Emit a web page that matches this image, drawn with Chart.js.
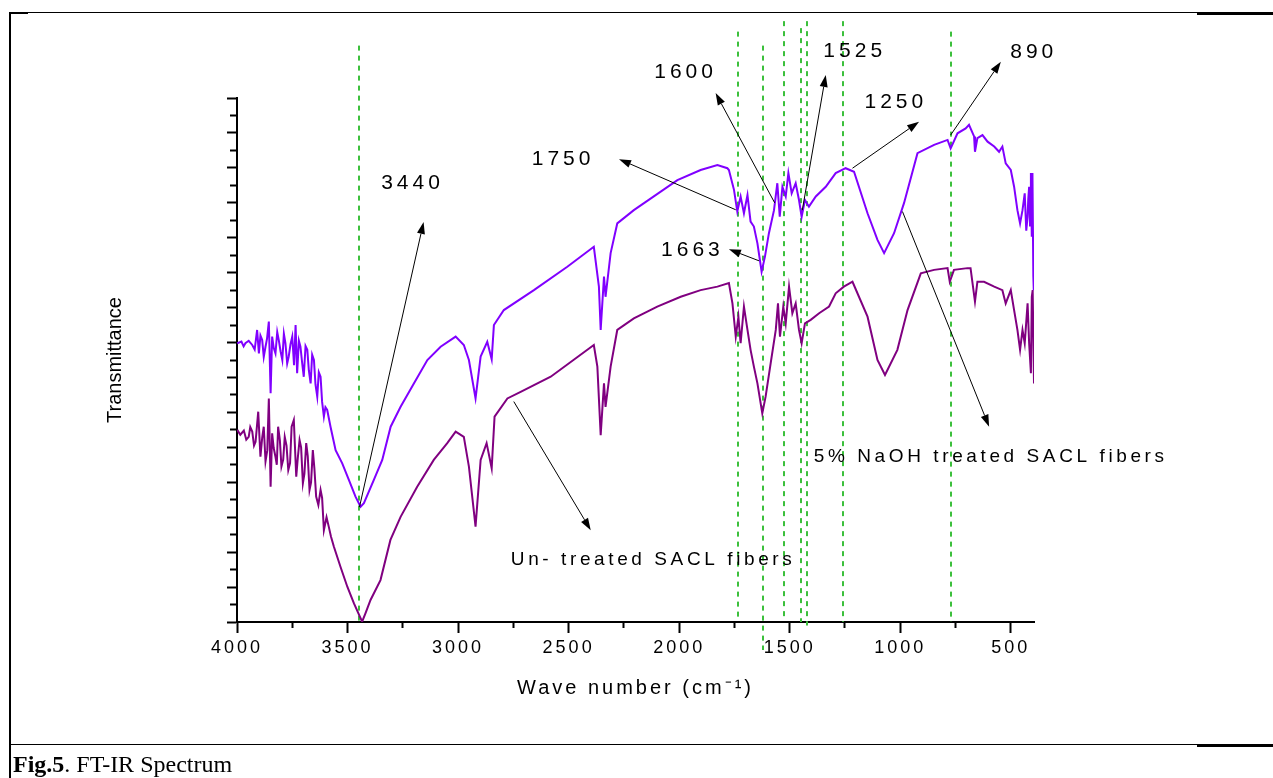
<!DOCTYPE html>
<html>
<head>
<meta charset="utf-8">
<script src="https://cdn.jsdelivr.net/npm/chart.js@4.4.1/dist/chart.umd.min.js"></script>
<style>
  html, body { margin: 0; padding: 0; background: #fff; }
  #page { position: relative; width: 1273px; height: 778px; overflow: hidden; }
  #c { position: absolute; left: 0; top: 0; }
  .rule { position: absolute; background: #000; }
  #caption {
    position: absolute; left: 13px; top: 752px;
    font-family: "Liberation Serif", "Times New Roman", serif;
    font-size: 24px; line-height: 24px; color: #000; white-space: nowrap;
  }
</style>
</head>
<body>
<div id="page">
  <canvas id="c" width="1273" height="778"></canvas>
  <div class="rule" style="left:9px;top:12px;width:2px;height:766px"></div>
  <div class="rule" style="left:9px;top:12px;width:1264px;height:1px"></div>
  <div class="rule" style="left:9px;top:12px;width:19px;height:2px"></div>
  <div class="rule" style="left:1197px;top:12px;width:76px;height:3px"></div>
  <div class="rule" style="left:9px;top:744px;width:1264px;height:1px"></div>
  <div class="rule" style="left:1197px;top:744px;width:76px;height:3px"></div>
  <div id="caption"><b>Fig.5</b>. FT-IR Spectrum</div>
</div>
<script>
// FT-IR spectra, values (arbitrary transmittance units)

// 5% NaOH treated SACL fibers
const treatedWave = [
  3999, 3980, 3970, 3962, 3947, 3931, 3920, 3909, 3901, 3894,
  3886, 3879, 3871, 3864, 3856, 3848, 3841, 3834, 3826, 3818,
  3811, 3803, 3795, 3788, 3781, 3773, 3766, 3758, 3750, 3742,
  3735, 3728, 3720, 3713, 3705, 3698, 3690, 3682, 3675, 3667,
  3660, 3652, 3645, 3637, 3630, 3622, 3615, 3607, 3600, 3592,
  3577, 3554, 3524, 3494, 3464, 3441, 3426, 3381, 3343, 3305,
  3260, 3200, 3139, 3079, 3011, 2974, 2951, 2921, 2898, 2868,
  2848, 2838, 2793, 2657, 2506, 2386, 2363, 2355, 2340, 2333,
  2310, 2280, 2205, 2008, 1903, 1827, 1782, 1775, 1752, 1737,
  1722, 1707, 1691, 1677, 1662, 1646, 1627, 1612, 1594, 1571,
  1556, 1545, 1533, 1518, 1506, 1491, 1473, 1458, 1446, 1431,
  1413, 1382, 1337, 1292, 1247, 1209, 1148, 1103, 1073, 1028,
  983, 922, 847, 786, 772, 741, 704, 689, 666, 662,
  651, 628, 605, 575, 553, 538, 523, 500, 485, 470,
  458, 447, 437, 430, 424, 421, 417, 413, 409, 405,
  402, 398, 396];
const treatedT = [
  79.8, 80.3, 78.9, 79.8, 80.5, 79.3, 78.0, 83.6, 76.9, 82.0,
  80.7, 75.9, 78.8, 81.2, 86.0, 65.5, 81.7, 78.5, 76.9, 83.0,
  80.7, 77.5, 75.0, 82.5, 79.8, 74.0, 76.0, 79.5, 81.7, 73.5,
  85.0, 71.2, 80.5, 78.8, 74.0, 70.2, 79.0, 77.9, 72.0, 68.3,
  76.5, 75.0, 68.0, 64.5, 71.5, 70.2, 63.0, 58.8, 61.5, 60.7,
  55.9, 49.2, 45.4, 40.7, 35.9, 33.0, 34.0, 40.7, 46.4, 55.9,
  61.6, 68.3, 75.0, 78.8, 81.7, 79.3, 75.0, 64.0, 76.0, 80.2,
  75.2, 85.0, 89.3, 95.0, 101.7, 107.4, 96.0, 83.6, 98.9, 93.1,
  105.6, 114.1, 117.9, 126.5, 129.4, 130.8, 129.9, 129.4, 123.7, 117.5,
  121.8, 117.0, 122.2, 114.6, 113.2, 108.4, 100.3, 104.6, 111.3, 117.9,
  125.6, 116.0, 124.6, 121.8, 128.5, 122.7, 125.6, 120.8, 116.0, 120.8,
  118.9, 121.8, 124.6, 128.5, 129.9, 128.9, 117.0, 109.4, 105.6, 111.3,
  119.9, 134.2, 136.6, 138.0, 135.6, 139.9, 141.3, 142.3, 139.0, 134.6,
  138.5, 139.4, 137.5, 136.1, 134.6, 136.1, 131.3, 129.4, 124.6, 117.9,
  114.1, 117.9, 122.7, 112.0, 116.0, 121.0, 124.6, 113.5, 128.5, 110.3,
  128.5, 98.9, 95.0];

// Un-treated SACL fibers
const untreatedWave = [
  3999, 3985, 3969, 3958, 3947, 3940, 3931, 3923, 3916, 3904,
  3894, 3886, 3879, 3871, 3863, 3856, 3848, 3841, 3834, 3826,
  3820, 3814, 3806, 3799, 3791, 3784, 3776, 3768, 3760, 3753,
  3743, 3732, 3725, 3717, 3710, 3702, 3695, 3687, 3680, 3672,
  3665, 3657, 3650, 3642, 3632, 3622, 3615, 3607, 3595, 3585,
  3575, 3562, 3532, 3501, 3471, 3434, 3419, 3396, 3351, 3306,
  3260, 3185, 3110, 3049, 3011, 2974, 2951, 2921, 2898, 2871,
  2848, 2835, 2777, 2717, 2581, 2386, 2370, 2355, 2340, 2333,
  2310, 2280, 2205, 2099, 1993, 1903, 1827, 1775, 1759, 1744,
  1732, 1722, 1707, 1691, 1677, 1662, 1646, 1624, 1609, 1586,
  1563, 1553, 1544, 1529, 1518, 1503, 1488, 1473, 1458, 1446,
  1431, 1405, 1367, 1322, 1292, 1255, 1216, 1148, 1103, 1069,
  1013, 967, 907, 847, 786, 776, 757, 696, 682, 662,
  651, 621, 575, 538, 523, 500, 485, 470, 458, 447,
  437, 424, 417, 409, 405, 401, 395];
const untreatedT = [
  55.0, 53.6, 54.8, 52.2, 53.0, 55.8, 54.5, 50.5, 51.6, 60.2,
  47.3, 52.8, 55.9, 46.0, 49.2, 64.0, 38.7, 54.0, 49.8, 47.3,
  45.0, 55.9, 52.0, 44.5, 46.5, 53.0, 50.5, 43.5, 45.5, 55.9,
  57.8, 41.6, 47.0, 52.1, 50.0, 39.7, 42.5, 51.2, 47.5, 37.8,
  40.0, 49.2, 44.0, 35.9, 33.5, 37.8, 35.5, 26.3, 30.0, 27.3,
  24.5, 21.6, 15.8, 10.1, 5.3, 0.1, 2.5, 6.3, 12.0, 23.5,
  30.1, 38.7, 46.4, 51.2, 54.5, 53.0, 44.5, 27.3, 46.4, 51.2,
  44.0, 58.8, 64.0, 65.9, 70.2, 79.3, 73.1, 53.5, 68.3, 61.6,
  73.1, 83.6, 86.9, 90.3, 93.1, 95.0, 96.0, 97.0, 91.2, 81.7,
  87.4, 79.8, 90.3, 83.6, 77.9, 73.1, 68.3, 59.7, 64.5, 74.1,
  83.6, 91.2, 81.7, 90.3, 85.5, 96.0, 88.4, 91.2, 83.6, 79.8,
  85.5, 86.5, 88.4, 90.3, 94.1, 96.0, 97.4, 87.4, 75.0, 70.7,
  77.9, 89.3, 99.8, 100.8, 101.3, 97.4, 100.8, 101.3, 101.3, 91.7,
  97.4, 97.4, 96.0, 95.0, 91.2, 95.0, 89.3, 83.6, 77.9, 83.6,
  79.8, 91.2, 79.8, 71.2, 93.1, 95.0, 68.3];

// axis ticks
const xMajorTicks = [4000, 3500, 3000, 2500, 2000, 1500, 1000, 500];
const xMinorTicks = [3750, 3250, 2750, 2250, 1750, 1250, 750];
const yMajorTicks = [0, 10, 20, 30, 40, 50, 60, 70, 80, 90, 100, 110, 120, 130, 140, 150];
const yMinorTicks = [5, 15, 25, 35, 45, 55, 65, 75, 85, 95, 105, 115, 125, 135, 145];

// green dashed peak markers (wavenumber, top, bottom in data units)
const markerWave = [3450, 1735, 1620, 1527, 1450, 1423, 1260, 772];
const markerTop = [165, 169, 165, 172, 170, 172, 172, 169];
const markerBottom = [0, 1, -8, 1, 0, -1, 0, 0];

// annotation arrows: tail -> head
const arrowFromWave = [3446, 1744, 1568, 1443, 1216, 772, 1639, 2748, 990];
const arrowFromT = [32.9, 118.0, 120.0, 117.9, 129.9, 139.4, 103.4, 63.1, 117.5];
const arrowToWave = [3156, 2272, 1835, 1337, 915, 545, 1775, 2400, 598];
const arrowToT = [114.5, 132.5, 151.4, 156.6, 143.2, 160.4, 106.7, 26.3, 55.9];

// annotation texts
const noteText = ['3440', '1750', '1600', '1525', '1250', '890', '1663',
  'Un- treated SACL fibers', '5% NaOH treated SACL fibers'];
const noteWave = [3206, 2525, 1971, 1206, 1020, 396, 1940, 2118, 591];
const noteT = [125.7, 132.6, 157.5, 163.3, 148.7, 163.2, 106.3, 17.7, 47.2];
const noteSize = [21, 21, 21, 21, 21, 21, 21, 19, 19];

const SANS = 'Arial, "Liberation Sans", Helvetica, sans-serif';

function drawArrow(ctx, x1, y1, x2, y2) {
  const ang = Math.atan2(y2 - y1, x2 - x1);
  const len = 12;
  const half = 4;
  const bx = x2 - Math.cos(ang) * len;
  const by = y2 - Math.sin(ang) * len;
  ctx.beginPath();
  ctx.moveTo(x1, y1);
  ctx.lineTo(bx, by);
  ctx.stroke();
  ctx.beginPath();
  ctx.moveTo(x2, y2);
  ctx.lineTo(bx + Math.sin(ang) * half, by - Math.cos(ang) * half);
  ctx.lineTo(bx - Math.sin(ang) * half, by + Math.cos(ang) * half);
  ctx.closePath();
  ctx.fill();
}

const annotationPlugin = {
  id: 'ftirNotes',
  beforeDraw(chart) {
    // the figure's axis numbers and title are letter-spaced
    chart.ctx.letterSpacing = '3px';
  },
  beforeDatasetsDraw(chart) {
    const { ctx, scales: { x, y } } = chart;
    ctx.save();
    ctx.strokeStyle = '#3cc03c';
    ctx.lineWidth = 2;
    ctx.setLineDash([5, 5]);
    markerWave.forEach((w, i) => {
      const px = Math.round(x.getPixelForValue(w));
      ctx.beginPath();
      ctx.moveTo(px, y.getPixelForValue(markerTop[i]));
      ctx.lineTo(px, y.getPixelForValue(markerBottom[i]));
      ctx.stroke();
    });
    ctx.restore();
  },
  afterDraw(chart) {
    const { ctx, chartArea, scales: { x, y } } = chart;
    ctx.save();
    ctx.strokeStyle = '#000';
    ctx.fillStyle = '#000';
    ctx.lineWidth = 1;
    arrowFromWave.forEach((w, i) => {
      drawArrow(ctx,
        x.getPixelForValue(w), y.getPixelForValue(arrowFromT[i]),
        x.getPixelForValue(arrowToWave[i]), y.getPixelForValue(arrowToT[i]));
    });

    ctx.textAlign = 'center';
    ctx.textBaseline = 'middle';
    noteText.forEach((t, i) => {
      ctx.font = `${noteSize[i]}px ${SANS}`;
      ctx.letterSpacing = noteSize[i] > 20 ? '4px' : '3.6px';
      ctx.fillText(t, x.getPixelForValue(noteWave[i]), y.getPixelForValue(noteT[i]));
    });

    // y axis title
    ctx.letterSpacing = '0px';
    ctx.font = `20px ${SANS}`;
    ctx.translate(115, (chartArea.top + chartArea.bottom) / 2);
    ctx.rotate(-Math.PI / 2);
    ctx.fillText('Transmittance', 0, 0);
    ctx.restore();
    ctx.letterSpacing = '0px';
  },
};

const toPoints = (wave, vals) => wave.map((w, i) => ({ x: w, y: vals[i] }));

new Chart(document.getElementById('c'), {
  type: 'line',
  data: {
    datasets: [
      {
        label: '5% NaOH treated SACL fibers',
        data: toPoints(treatedWave, treatedT),
        borderColor: '#8000ff',
        borderWidth: 2,
        pointRadius: 0,
        tension: 0,
      },
      {
        label: 'Un- treated SACL fibers',
        data: toPoints(untreatedWave, untreatedT),
        borderColor: '#800080',
        borderWidth: 2,
        pointRadius: 0,
        tension: 0,
      },
    ],
  },
  plugins: [annotationPlugin],
  options: {
    responsive: false,
    animation: false,
    devicePixelRatio: 1,
    layout: { padding: { left: 0, top: 98, right: 239, bottom: 74 } },
    plugins: {
      legend: { display: false },
      tooltip: { enabled: false },
    },
    scales: {
      x: {
        type: 'linear',
        reverse: true,
        min: 395,
        max: 4000,
        afterBuildTicks: (scale) => {
          scale.ticks = xMajorTicks.concat(xMinorTicks)
            .sort((a, b) => b - a)
            .map((v) => ({ value: v }));
        },
        afterFit: (scale) => { scale.height = 82; },
        ticks: {
          autoSkip: false,
          maxRotation: 0,
          padding: 4,
          color: '#000',
          font: { family: SANS, size: 18 },
          callback: (v) => (xMajorTicks.includes(v) ? String(v) : ''),
        },
        grid: {
          display: true,
          drawOnChartArea: false,
          drawTicks: true,
          tickLength: 11,
          tickWidth: 2,
          tickColor: '#000',
          tickBorderDash: (c) => (c.tick && xMajorTicks.includes(c.tick.value) ? [] : [5, 30]),
        },
        border: { display: true, color: '#000', width: 2 },
        title: {
          display: true,
          text: 'Wave number (cm⁻¹)',
          color: '#000',
          font: { family: SANS, size: 20 },
          padding: { top: 4, bottom: 4 },
        },
      },
      y: {
        type: 'linear',
        min: 0,
        max: 150,
        afterBuildTicks: (scale) => {
          scale.ticks = yMajorTicks.concat(yMinorTicks)
            .sort((a, b) => a - b)
            .map((v) => ({ value: v }));
        },
        afterFit: (scale) => { scale.width = 237; },
        ticks: { display: false },
        grid: {
          display: true,
          drawOnChartArea: false,
          drawTicks: true,
          tickLength: 10,
          tickWidth: 2,
          tickColor: '#000',
          tickBorderDash: (c) => (c.tick && yMajorTicks.includes(c.tick.value) ? [] : [0, 3, 7, 30]),
        },
        border: { display: true, color: '#000', width: 2 },
        title: { display: false },
      },
    },
  },
});
</script>
</body>
</html>
